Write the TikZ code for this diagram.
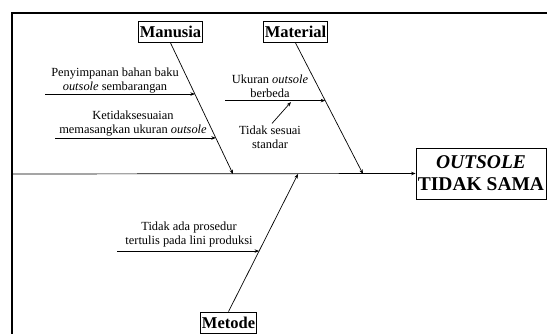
\documentclass[tikz,border=0pt]{standalone}
\usepackage{fontspec}
\setmainfont{Liberation Serif}
\usetikzlibrary{arrows.meta,calc}

\tikzset{
	bone/.style={line width=0.7pt,-{Stealth[length=4.5pt,width=3.5pt]}},
	cat/.style={draw,line width=0.8pt,inner sep=1.5pt,minimum height=21pt,font=\fontsize{16.5}{18}\selectfont\bfseries},
	cause/.style={align=center,inner sep=0pt,font=\fontsize{12.4}{14}\selectfont},
	effect/.style={draw,line width=0.8pt,align=center,minimum width=130pt,minimum height=51pt,inner sep=1pt,font=\fontsize{19.5}{22}\selectfont\bfseries}
}

\begin{document}
\begin{tikzpicture}[x=1pt,y=-1pt]
	\clip (0,0) rectangle (547,333);
	% frame
	\draw[line width=1.3pt] (12,340) -- (12,13) -- (560,13);
	% categories and effect
	\node[cat] (man) at (170.5,32) {Manusia};
	\node[cat] (mat) at (295.5,32) {Material};
	\node[cat] (met) at (228.5,322.5) {Metode};
	\node[effect] (eff) at (481,173.5) {\textit{OUTSOLE}\\TIDAK SAMA};
	% spine
	\coordinate (tail) at (12,174);
	\coordinate (m1) at (233,174);
	\coordinate (m2) at (363,174);
	\coordinate (m3) at (298,174);
	\draw[bone] (tail) -- (eff.west);
	\draw[bone] (man.south) -- (m1);
	\draw[bone] (mat.south) -- (m2);
	\draw[bone] (met.north) -- (m3);
	% causes
	\coordinate (p1) at ($(man.south)!0.39!(m1)$);
	\coordinate (p2) at ($(man.south)!0.725!(m1)$);
	\coordinate (p3) at ($(mat.south)!0.44!(m2)$);
	\coordinate (p4) at ($(met.north)!0.44!(m3)$);
	\coordinate (t1) at (45,0);
	\coordinate (t2) at (55,0);
	\coordinate (t3) at (225,0);
	\coordinate (t4) at (117,0);
	\draw[bone] (t1 |- p1) -- (p1);
	\draw[bone] (t2 |- p2) -- (p2);
	\draw[bone] (t3 |- p3) -- (p3);
	\draw[bone] (t4 |- p4) -- (p4);
	\node[cause] (c1) at (115,81) {Penyimpanan bahan baku\\\textit{outsole} sembarangan};
	\node[cause] (c2) at (133,123.5) {Ketidaksesuaian\\memasangkan ukuran \textit{outsole}};
	\node[cause] (c3) at (270,86.5) {Ukuran \textit{outsole}\\berbeda};
	\node[cause] (c4) at (270,137) {Tidak sesuai\\standar};
	\node[cause] (c5) at (189,235) {Tidak ada prosedur\\tertulis pada lini produksi};
	\coordinate (q) at (291,102);
	\draw[bone] ($(c4.north)+(2,-2)$) -- (q);
\end{tikzpicture}
\end{document}
